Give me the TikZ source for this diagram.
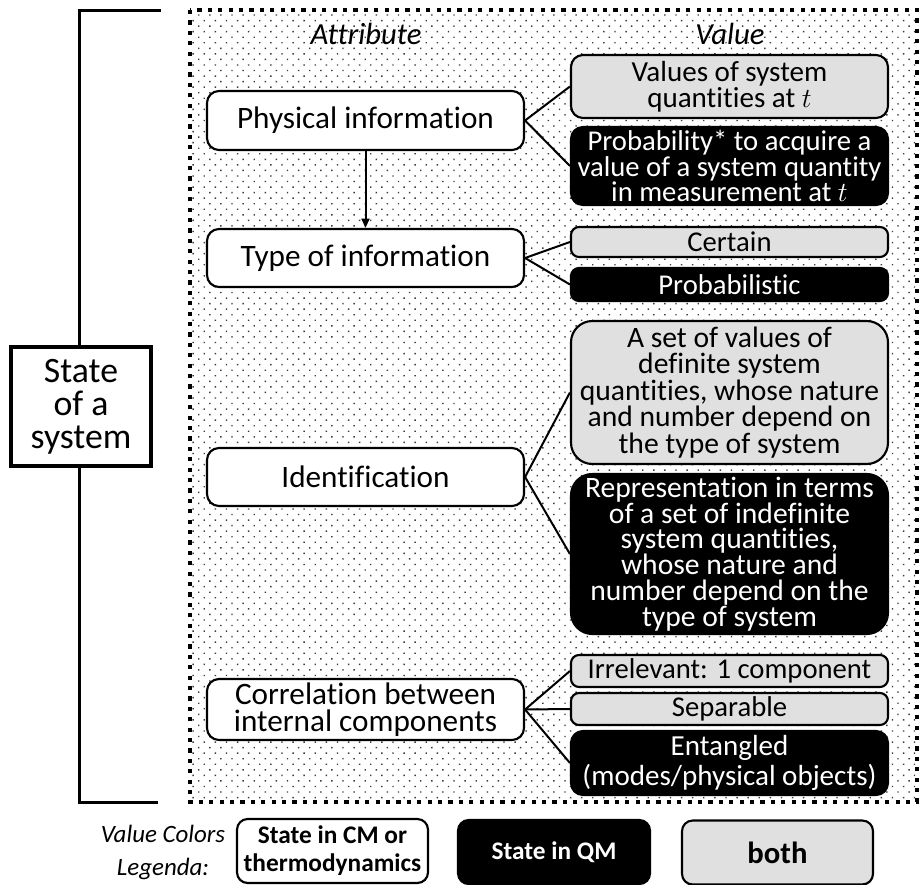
\documentclass[tikz,border=0pt]{standalone}
\usepackage{fontspec}
\setmainfont[Ligatures=CommonOff]{Carlito}
\usetikzlibrary{arrows.meta}
\definecolor{lightfill}{RGB}{224,224,224}
\definecolor{dotgray}{RGB}{60,60,60}

\begin{document}
\begin{tikzpicture}[x=0.75pt,y=-0.75pt,
  base/.style={draw=black, line width=1.6pt, align=center, inner sep=0pt,
    font=\fontsize{21.5}{18}\selectfont},
  attr/.style={base, fill=white, rounded corners=9pt, minimum width=237.75pt,
    font=\fontsize{23.4}{19.8}\selectfont},
  val/.style={base, rounded corners=6pt, minimum width=237.75pt},
  classic/.style={val, fill=lightfill},
  quantum/.style={val, fill=black, text=white},
  conn/.style={line width=1.5pt},
  legend/.style={draw=black, line width=1.6pt, align=center, inner sep=0pt,
    rounded corners=8pt, minimum width=143.25pt, minimum height=48pt,
    font=\bfseries\fontsize{19}{21}\selectfont},
  header/.style={font=\itshape\fontsize{23}{24}\selectfont}
]
\useasboundingbox (0,0) rectangle (921,885);
\fill[white] (0,0) rectangle (921,885);

% dotted panel holding attributes and values: staggered dot texture, one row per path
\begin{scope}
  \clip (192,12) rectangle (915,800);
  \foreach \r in {0,...,141} {
    \pgfmathsetmacro{\rowx}{198.0-5.55*mod(\r,2)}
    \pgfmathsetmacro{\rowy}{14.3+5.55*\r}
    \fill[dotgray] \foreach \c in {0,...,65} {
        ({\rowx+11.1*\c}, \rowy) rectangle ++(1.4,1.4)
      };
  }
\end{scope}
\draw[line width=3.2pt, dash pattern=on 3.2pt off 4.6pt] (190,10) rectangle (917,802);

% bracket on the left
\draw[line width=2.25pt] (161,10) -- (79,10) -- (79,802) -- (158,802);

\node[draw, line width=3.4pt, fill=white, align=center, inner sep=0pt,
  minimum width=105pt, minimum height=89pt,
  font=\fontsize{26.8}{24.6}\selectfont] (state) at (81,406.5) {State\\of a\\system};

% column headers
\node[header] (hattr) at (366,34) {Attribute};
\node[header] (hval) at (730,34) {Value};

% attributes
\node[attr, minimum height=44.25pt] (phys) at (365.5,120.5) {Physical information};
\node[attr, minimum height=43.5pt] (type) at (365.5,258) {Type of information};
\node[attr, minimum height=43.5pt] (ident) at (365.5,477) {Identification};
\node[attr, minimum height=45.75pt] (corr) at (365.5,709.5) {Correlation between\\internal components};

% values
\node[classic, rounded corners=9pt, minimum height=47.25pt,
  font=\fontsize{21.8}{17.4}\selectfont] (vals) at (729.5,86.5)
  {Values of system\\quantities at $t$};
\node[quantum, rounded corners=9pt, minimum height=58.5pt,
  font=\fontsize{21.5}{17.8}\selectfont] (prob) at (729.5,166)
  {Probability* to acquire a\\value of a system quantity\\in measurement at $t$};
\node[classic, minimum height=22.5pt] (certain) at (729.5,242) {Certain};
\node[quantum, minimum height=24.75pt] (probab) at (729.5,284.5) {Probabilistic};
\node[classic, rounded corners=16pt, minimum height=107.25pt,
  font=\fontsize{22.2}{19.8}\selectfont] (aset) at (729.5,392.5)
  {A set of values of\\definite system\\quantities, whose nature\\and number depend on\\the type of system};
\node[quantum, rounded corners=16pt, minimum height=120pt,
  font=\fontsize{22.2}{19.4}\selectfont] (repr) at (729.5,554)
  {Representation in terms\\of a set of indefinite\\system quantities,\\whose nature and\\number depend on the\\type of system};
\node[classic, minimum height=24pt] (irrel) at (729.5,671) {Irrelevant: 1 component};
\node[classic, minimum height=24pt] (sep) at (729.5,709) {Separable};
\node[quantum, rounded corners=9pt, minimum height=48pt,
  font=\fontsize{21.8}{22}\selectfont] (ent) at (729.5,763)
  {Entangled\\(modes/physical objects)};

% links from attributes to their values
\draw[conn] (phys.east) -- (vals.west);
\draw[conn] (phys.east) -- (prob.west);
\draw[conn] (type.east) -- (certain.west);
\draw[conn] (type.east) -- (probab.west);
\draw[conn] (ident.east) -- (aset.west);
\draw[conn] (ident.east) -- (repr.west);
\draw[conn] (corr.east) -- (irrel.west);
\draw[conn] (corr.east) -- (sep.west);
\draw[conn] (corr.east) -- (ent.west);
\draw[conn, -{Triangle[length=7pt,width=6pt]}] (phys.south) -- (type.north);

% colour key
\node[align=center, font=\itshape\fontsize{18.7}{24.75}\selectfont] (legtitle)
  at (163,852) {Value Colors\\Legenda:};
\node[legend, fill=white] (legcm) at (332.5,851) {State in CM or\\thermodynamics};
\node[legend, fill=black, text=white, minimum width=144pt] (legqm) at (554,852) {State in QM};
\node[legend, fill=lightfill, font=\bfseries\fontsize{23}{24}\selectfont] (legboth)
  at (777.5,852.5) {both};
\end{tikzpicture}
\end{document}
